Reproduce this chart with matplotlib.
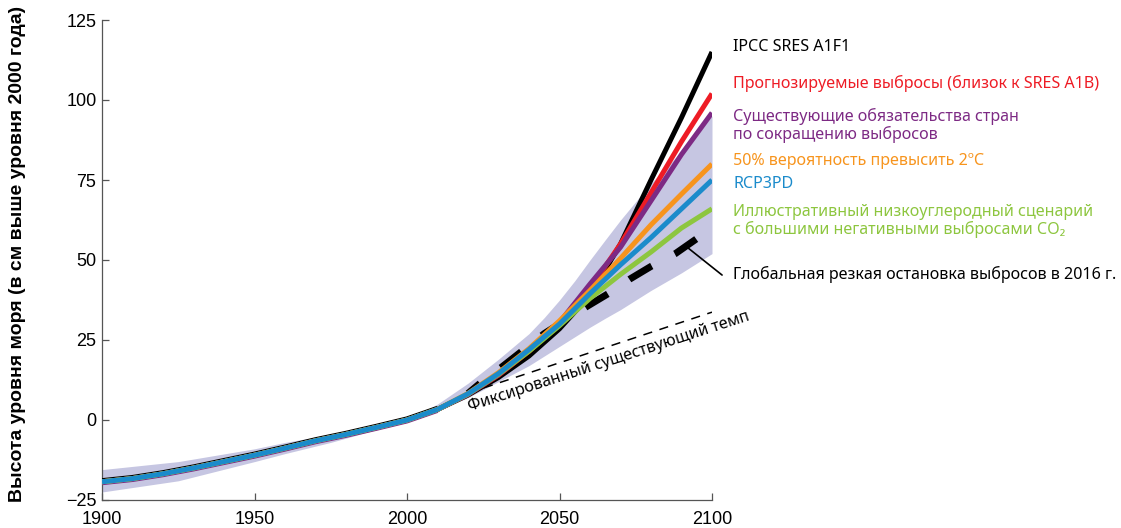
import matplotlib
matplotlib.use("Agg")
import matplotlib.pyplot as plt
import numpy as np

# ---- data ----
hist_years = [1900, 1910, 1920, 1930, 1940, 1950, 1960, 1970, 1980, 1990, 2000, 2010]
hist_values = [-19.3, -18.3, -16.8, -15.0, -13.0, -11.0, -8.8, -6.5, -4.5, -2.3, 0.0, 3.3]

fut_years = [2010, 2020, 2030, 2040, 2050, 2060, 2070, 2080, 2090, 2100]
a1fi = [3.3, 7.8, 13.3, 20.0, 28.5, 39.0, 55.0, 75.0, 94.5, 115.0]
a1b = [3.3, 8.0, 14.0, 21.5, 30.0, 41.0, 55.0, 71.0, 87.0, 102.0]
pledges = [3.3, 8.0, 14.2, 21.8, 30.5, 42.5, 54.0, 68.5, 83.0, 96.0]
prob50 = [3.3, 8.3, 14.8, 22.3, 31.0, 40.5, 50.5, 61.0, 70.6, 80.0]
rcp3pd = [3.3, 8.2, 14.5, 22.0, 30.0, 39.5, 48.5, 57.0, 66.0, 75.0]
lowcarb = [3.3, 8.1, 14.3, 21.5, 29.5, 38.0, 45.5, 52.5, 60.0, 66.0]

stop_years = [2020, 2024, 2031, 2037, 2045, 2059, 2066, 2073, 2080, 2088, 2095.5]
stop_values = [8.3, 11.5, 16.5, 21.0, 27.0, 35.5, 39.5, 44.0, 48.0, 52.0, 57.0]

const_years = [2020, 2100]
const_values = [8.4, 33.7]

band_years = [1900, 1925, 1950, 1960, 1975, 1990, 2000, 2010, 2020, 2030, 2040,
              2045, 2050, 2055, 2060, 2065, 2070, 2080, 2090, 2100]
band_upper = [-15.5, -13.0, -9.0, -7.0, -4.5, -2.0, 0.0, 5.0, 11.5, 19.0, 27.0,
              32.0, 37.5, 43.5, 50.0, 56.3, 62.5, 74.0, 84.0, 95.0]
band_lower = [-22.5, -19.0, -13.0, -10.5, -7.0, -3.0, 0.0, 3.0, 7.0, 12.0, 17.0,
              20.0, 23.0, 26.0, 29.0, 31.8, 34.5, 40.5, 46.0, 52.0]

labels = ["IPCC SRES A1F1",
          "Прогнозируемые выбросы (близок к SRES A1B)",
          "Существующие обязательства стран\nпо сокращению выбросов",
          "50% вероятность превысить 2ºC",
          "RCP3PD",
          "Иллюстративный низкоуглеродный сценарий\nс большими негативными выбросами CO₂"]
label_y = [116.6, 105.3, 92.0, 80.8, 73.6, 62.2]
colors = ["#000000", "#ee1c25", "#7d2a84", "#f7941d", "#1b8bcb", "#8dc63f"]
stop_label = "Глобальная резкая остановка выбросов в 2016 г."
const_label = "Фиксированный существующий темп"
ylabel = "Высота уровня моря (в см выше уровня 2000 года)"
xticks = [1900, 1950, 2000, 2050, 2100]
yticks = [-25, 0, 25, 50, 75, 100, 125]

# ---- figure ----
fig = plt.figure(figsize=(11.21, 5.28), dpi=100)
ax = fig.add_axes([102/1121, 1 - 500/528, 610/1121, 480/528])

ax.fill_between(band_years, band_lower, band_upper, color="#c6c6e2", lw=0, zorder=1)

ax.plot(const_years, const_values, color="black", lw=1.1, dashes=(6, 5), zorder=2)

ax.plot(stop_years, stop_values, color="black", lw=5,
        linestyle=(1.5, (3.75, 3.75)), dash_capstyle="butt", zorder=2.5)

series = [a1fi, a1b, pledges, prob50, rcp3pd, lowcarb]
for i, (vals, c) in enumerate(zip(series, colors)):
    offs = 0.35 if i == 0 else (-0.3 if i == 2 else 0.0)
    z = 3 + i if i != 4 else 10
    ax.plot(hist_years, np.array(hist_values) + offs, color=c, lw=3.6,
            solid_capstyle="butt", zorder=z)
    ax.plot(fut_years, vals, color=c, lw=3.6, solid_capstyle="butt", zorder=z)

# labels to the right
for txt, yv, c in zip(labels, label_y, colors):
    ax.text(2106.9, yv, txt, color=c, fontsize=11.6, family="Noto Sans",
            va="center", ha="left", linespacing=1.1, clip_on=False)

ax.annotate("", xy=(2103.3, 45.3), xytext=(2092.1, 53.8),
            arrowprops=dict(arrowstyle="-", color="black", lw=1.2,
                            shrinkA=0, shrinkB=0),
            annotation_clip=False)
ax.text(2106.9, 45.5, stop_label, color="black", fontsize=11.6, family="Noto Sans",
        va="center", ha="left", clip_on=False)

ax.text(2020.6, 2.8, const_label, color="black", fontsize=11.6, family="Noto Sans",
        rotation=18, rotation_mode="anchor", ha="left", va="baseline")

ax.set_xlim(1900, 2100)
ax.set_ylim(-25, 125)
ax.set_xticks(xticks)
ax.set_yticks(yticks)
for lab in ax.get_xticklabels() + ax.get_yticklabels():
    lab.set_family("Liberation Sans")
    lab.set_fontsize(13)
ax.tick_params(direction="in", length=5, width=0.9, color="#555555")
ax.tick_params(axis="x", pad=8)
ax.tick_params(axis="y", pad=4)
for s in ["top", "right"]:
    ax.spines[s].set_visible(False)
for s in ["left", "bottom"]:
    ax.spines[s].set_color("#555555")
    ax.spines[s].set_linewidth(0.9)

fig.text(18/1121, 1 - 254/528, ylabel, rotation=90, ha="center", va="center",
         fontsize=14, fontweight="bold", family="Liberation Sans")

fig.savefig("out.png", dpi=100)
